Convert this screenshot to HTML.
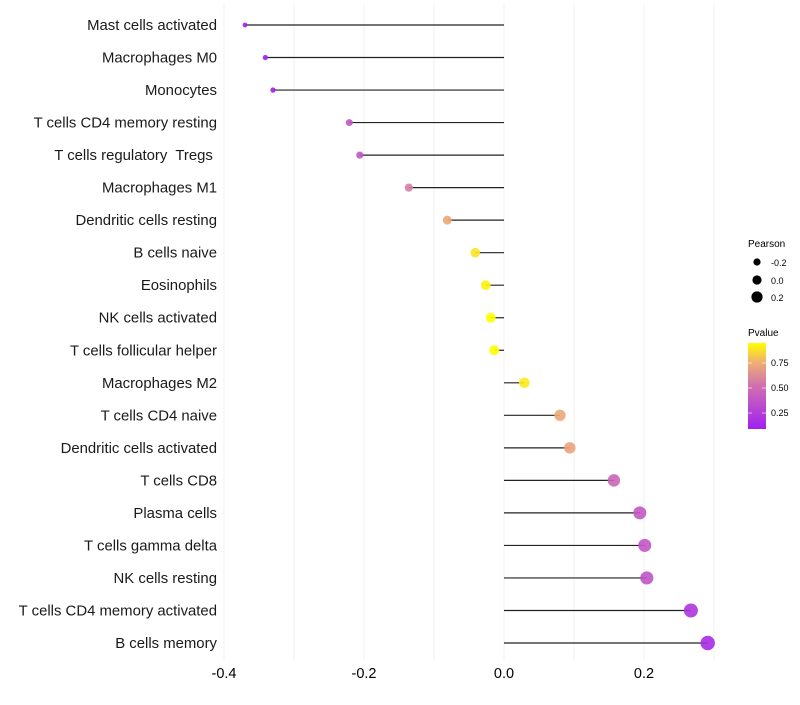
<!DOCTYPE html>
<html><head><meta charset="utf-8"><style>
body{margin:0;background:#fff;font-family:"Liberation Sans",sans-serif}
text{white-space:pre}
</style></head><body>
<svg id="chart" width="800" height="700" xmlns="http://www.w3.org/2000/svg">
<defs><linearGradient id="pg" x1="0" y1="1" x2="0" y2="0">
<stop offset="0" stop-color="#a020f0"/><stop offset="0.5" stop-color="#d070b0"/><stop offset="0.78" stop-color="#f0b070"/><stop offset="1" stop-color="#ffff00"/></linearGradient></defs>
<g id="grid"></g><g id="marks"></g><g id="labels"></g>
<g font-size="10" fill="#000">
<text x="748" y="247">Pearson</text>
<circle cx="757" cy="262" r="3.6"/><text x="771" y="266" font-size="9">-0.2</text>
<circle cx="757" cy="280" r="4.6"/><text x="771" y="284" font-size="9">0.0</text>
<circle cx="757" cy="297" r="5.6"/><text x="771" y="301" font-size="9">0.2</text>
</g>
<g font-size="9" fill="#000">
<text x="748" y="336" font-size="10">Pvalue</text>
<rect x="748" y="343" width="18" height="86" fill="url(#pg)"/>
<g stroke="#fff" stroke-opacity="0.6"><line x1="748" x2="752" y1="363" y2="363"/><line x1="762" x2="766" y1="363" y2="363"/><line x1="748" x2="752" y1="388" y2="388"/><line x1="762" x2="766" y1="388" y2="388"/><line x1="748" x2="752" y1="413" y2="413"/><line x1="762" x2="766" y1="413" y2="413"/></g>
<text x="771" y="366">0.75</text><text x="771" y="391">0.50</text><text x="771" y="416">0.25</text>
</g>
</svg>
<script>
const categories=["Mast cells activated","Macrophages M0","Monocytes","T cells CD4 memory resting","T cells regulatory  Tregs ","Macrophages M1","Dendritic cells resting","B cells naive","Eosinophils","NK cells activated","T cells follicular helper","Macrophages M2","T cells CD4 naive","Dendritic cells activated","T cells CD8","Plasma cells","T cells gamma delta","NK cells resting","T cells CD4 memory activated","B cells memory"];
const pearson=[-0.370,-0.341,-0.330,-0.221,-0.206,-0.136,-0.081,-0.041,-0.026,-0.019,-0.014,0.029,0.080,0.094,0.157,0.194,0.201,0.204,0.267,0.291];
const pvalues=[0.08,0.10,0.11,0.36,0.38,0.55,0.72,0.88,0.92,0.95,0.95,0.90,0.72,0.70,0.45,0.38,0.37,0.36,0.20,0.15];
const xTicks=[-0.4,-0.2,0.0,0.2];
const xTickLabels=["-0.4","-0.2","0.0","0.2"];
const NS="http://www.w3.org/2000/svg";
function xs(v){return 504+v*700;}
function ys(i){return 25+i*(618/19);}
function rs(v){return 2.4+(v+0.37)/0.66*4.8;}
function lerp(a,b,t){return a+(b-a)*t;}
function col(p){const st=[[0.09,[160,32,240]],[0.5,[208,112,176]],[0.75,[240,176,112]],[0.95,[255,255,0]]];
 p=Math.max(0.09,Math.min(0.95,p));
 for(let k=0;k<st.length-1;k++){if(p<=st[k+1][0]){const t=(p-st[k][0])/(st[k+1][0]-st[k][0]);const c=st[k][1].map((x,j)=>Math.round(lerp(x,st[k+1][1][j],t)));return `rgb(${c})`;}}
 return "rgb(255,255,0)";}
function mk(tag,attrs,parent){const e=document.createElementNS(NS,tag);for(const k in attrs)e.setAttribute(k,attrs[k]);document.getElementById(parent).appendChild(e);return e;}
for(let v=-0.4;v<=0.31;v+=0.1){const g=mk("line",{x1:xs(v),x2:xs(v),y1:5,y2:660,stroke:"#f0f0f0","stroke-width":1},"grid");

}
xTicks.forEach((t,i)=>{const e=mk("text",{x:xs(t),y:678,"text-anchor":"middle","font-size":14.5,fill:"#000"},"labels");e.textContent=xTickLabels[i];

});
categories.forEach((c,i)=>{
 const t=mk("text",{x:217,y:ys(i)+5,"text-anchor":"end","font-size":14.9,fill:"#1a1a1a"},"labels");t.textContent=c;
 
 
 const l=mk("line",{x1:xs(0),x2:xs(pearson[i]),y1:ys(i),y2:ys(i),stroke:"#222","stroke-width":1.2},"marks");
 
 
 const d=mk("circle",{cx:xs(pearson[i]),cy:ys(i),r:rs(pearson[i]),fill:col(pvalues[i]),"fill-opacity":0.9},"marks");
 
 
});
</script>
</body></html>
